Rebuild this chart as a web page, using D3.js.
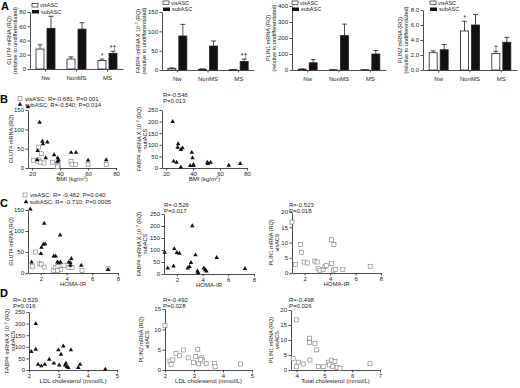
<!doctype html>
<html>
<head>
<meta charset="utf-8">
<script src="https://d3js.org/d3.v7.min.js"></script>
<style>
  body { margin: 0; background: #fff; }
  svg { font-family: "Liberation Sans", Arial, sans-serif; }
</style>
</head>
<body>
<script>
// ---------- A: bar data (mean, SEM) ----------
const groups = ["Nw", "NonMS", "MS"];
const glut4Vis = [28, 14, 12], glut4VisSem = [6, 3, 2];
const glut4Sub = [57, 56, 22], glut4SubSem = [17, 9, 3];
const fabp4Vis = [4, 2, 1], fabp4VisSem = [1.5, 0.8, 0.4];
const fabp4Sub = [88, 62, 22], fabp4SubSem = [30, 13, 6];
const plin1Vis = [5, 2, 2], plin1VisSem = [2, 1, 1];
const plin1Sub = [45, 215, 100], plin1SubSem = [20, 72, 22];
const plin2Vis = [2.3, 5.2, 2.2], plin2VisSem = [0.25, 1.3, 0.3];
const plin2Sub = [2.7, 6.0, 3.7], plin2SubSem = [0.7, 1.4, 0.65];

// ---------- B: BMI ----------
const bmiVisB = [21, 24.4, 26.5, 24.8, 24, 26, 28.5, 34.5, 38.2, 38.9, 38, 47.8, 48.5, 51, 60, 73];
const glut4VisB = [20, 54, 37, 21, 17, 15, 13, 15, 11, 6, 3, 17, 9, 9, 9, 9];
const bmiSubB = [17, 25.3, 23.9, 23.6, 27.3, 27.7, 30.9, 29.7, 35.7, 38.2, 38.9, 38.2, 47.8, 51.4, 60, 73];
const glut4SubB = [158, 118, 45, 21, 69, 62, 67, 26, 34, 26, 21, 17, 40, 40, 20, 21];
const bmiB2 = [24.9, 25.6, 27.8, 29, 28.6, 31, 32.2, 31, 37.9, 40.3, 39.1, 39.6, 40.3, 50.6, 51.1, 53, 66.5, 75];
const fabp4B2 = [200, 29, 24, 104, 89, 79, 86, 3, 10, 10, 67, 43, 14, 24, 19, 24, 11, 19];

// ---------- C: HOMA-IR ----------
const homaVisC1 = [1.57, 1.92, 2.05, 2.26, 1.36, 3.0, 3.15, 3.33, 3.53, 3.8, 4.17, 4.43, 5.2, 7.23, 3.28];
const glut4VisC1 = [50, 22, 21, 14, 16, 6, 13, 16, 8, 18, 13, 13, 6, 10, 6];
const homaSubC1 = [1.18, 1.28, 2.26, 2.0, 2.05, 2.2, 2.33, 3.0, 3.15, 3.5, 3.28, 3.4, 3.53, 4.17, 4.3, 4.37, 4.3, 5.14, 7.23];
const glut4SubC1 = [152, 26, 118, 46, 61, 68, 69, 40, 40, 90, 26, 24, 26, 26, 24, 34, 18, 18, 8];
const homaC2 = [1.05, 1.29, 1.74, 1.8, 2.0, 2.2, 2.85, 2.98, 3.1, 3.2, 3.45, 3.6, 3.65, 4.1, 4.2, 4.3, 5.1, 7.3];
const fabp4C2 = [90, 24, 33, 105, 89, 86, 24, 31, 47, 200, 79, 12, 6, 24, 17, 12, 68, 22];
const homaC3 = [1.0, 1.26, 1.68, 1.74, 1.95, 2.2, 2.8, 2.98, 3.06, 3.2, 3.45, 3.6, 3.7, 4.1, 4.3, 4.1, 4.25, 4.4, 5.0, 7.15];
const plin1C3 = [16.7, 2.8, 9.4, 6.8, 3.6, 3.3, 3.9, 3.6, 1.4, 0.9, 1.2, 2.2, 2.5, 10.9, 9.3, 3.1, 0.9, 1.1, 1.2, 2.2];

// ---------- D: cholesterol ----------
const ldlD1 = [2.08, 2.23, 2.23, 2.31, 2.42, 2.54, 2.69, 2.85, 3.0, 3.03, 3.09, 3.17, 3.23, 3.26, 3.34, 3.29, 3.43, 3.68, 3.74, 4.6];
const fabp4D1 = [79, 200, 89, 24, 17, 24, 46, 29, 86, 21, 67, 103, 21, 29, 10, 14, 86, 10, 24, 3];
const ldlD2 = [2.0, 2.17, 2.21, 2.27, 2.38, 2.5, 2.63, 2.8, 2.98, 3.06, 3.13, 3.15, 3.27, 3.3, 3.23, 3.42, 3.7, 3.73, 4.6];
const plin2D2 = [10.9, 2.2, 1.4, 2.5, 4.1, 3.5, 4.9, 3.0, 1.9, 3.3, 5.1, 1.5, 3.0, 2.2, 2.6, 1.6, 1.6, 0.8, 1.5];
const tcD3 = [3.88, 4.0, 4.06, 4.0, 4.24, 4.46, 4.46, 4.48, 4.78, 4.66, 4.72, 4.96, 5.14, 5.18, 5.26, 5.3, 5.38, 5.46, 5.56, 6.64];
const plin1D3 = [3.9, 1.1, 2.6, 16.7, 2.0, 10.6, 9.2, 3.3, 1.1, 8.9, 6.7, 1.1, 2.6, 1.7, 3.3, 1.1, 2.8, 0.8, 0.6, 2.1];

const ink = "#222";
const svg = d3.select("body").append("svg").attr("width", 520).attr("height", 388);
svg.append("rect").attr("width", 520).attr("height", 388).attr("fill", "#fff");

// text with optional superscripts: parts = ["a", {sup:"-3"}, "b"]
function rich(t, parts) {
  let raise = false;
  parts.forEach(p => {
    if (typeof p === "string") {
      t.append("tspan").attr("dy", raise ? 2 : null).text(p);
      raise = false;
    } else {
      t.append("tspan").attr("dy", -2).attr("font-size", 4).text(p.sup);
      raise = true;
    }
  });
  return t;
}

function styleAxis(g) {
  g.attr("font-size", null).attr("font-family", null);
  g.select(".domain").attr("stroke", ink).attr("stroke-width", 0.8);
  g.selectAll(".tick line").attr("stroke", ink).attr("stroke-width", 0.8);
  g.selectAll(".tick text").attr("fill", ink).attr("font-size", 6);
}

function yLabel(xs, yc, lines, size) {
  lines.forEach((parts, i) => {
    const t = svg.append("text")
      .attr("transform", `translate(${xs[i]},${yc}) rotate(-90)`)
      .attr("text-anchor", "middle").attr("font-size", size || 5.5).attr("fill", ink);
    rich(t, parts);
  });
}

function txt(x, y, s, size, opts) {
  const t = svg.append("text").attr("x", x).attr("y", y)
    .attr("font-size", size || 6).attr("fill", ink);
  if (opts && opts.anchor) t.attr("text-anchor", opts.anchor);
  if (opts && opts.bold) t.attr("font-weight", "bold");
  return t.text(s);
}

const tri = d3.symbol(d3.symbolTriangle, 9)();

function drawPoints(g, x, y, xs, ys, type) {
  const pts = d3.zip(xs, ys);
  if (type === "tri") {
    g.selectAll(null).data(pts).join("path")
      .attr("d", tri)
      .attr("transform", d => `translate(${x(d[0])},${y(d[1])})`)
      .attr("fill", "#111");
  } else {
    g.selectAll(null).data(pts).join("rect")
      .attr("x", d => x(d[0]) - 2).attr("y", d => y(d[1]) - 2)
      .attr("width", 4).attr("height", 4)
      .attr("fill", "#fff").attr("stroke", "#8a8a8a").attr("stroke-width", 0.7);
  }
}

// ---------- bar panel ----------
const bw = 8, gap = 3;
function barPanel(o) {
  const x = d3.scaleBand().domain(groups).range([o.x0, o.x1]);
  const y = d3.scaleLinear().domain([0, o.ymax]).range([o.yb, o.yt]);
  const g = svg.append("g");
  const series = [
    { v: o.vis, e: o.visSem, m: o.visMark || [], fill: "#fff", off: -bw - gap / 2 },
    { v: o.sub, e: o.subSem, m: o.subMark || [], fill: "#111", off: gap / 2 }
  ];
  series.forEach(s => {
    const cx = (k) => x(k) + x.bandwidth() / 2 + s.off;
    const top = (i) => y(s.v[i] + s.e[i]);
    g.selectAll(null).data(groups).join("line")
      .attr("x1", k => cx(k) + bw / 2).attr("x2", k => cx(k) + bw / 2)
      .attr("y1", (k, i) => y(s.v[i])).attr("y2", (k, i) => top(i))
      .attr("stroke", ink).attr("stroke-width", 0.8);
    g.selectAll(null).data(groups).join("line")
      .attr("x1", k => cx(k) + bw / 2 - 2.5).attr("x2", k => cx(k) + bw / 2 + 2.5)
      .attr("y1", (k, i) => top(i)).attr("y2", (k, i) => top(i))
      .attr("stroke", ink).attr("stroke-width", 0.8);
    g.selectAll(null).data(groups).join("rect")
      .attr("x", k => cx(k)).attr("width", bw)
      .attr("y", (k, i) => y(s.v[i])).attr("height", (k, i) => y(0) - y(s.v[i]))
      .attr("fill", s.fill).attr("stroke", ink).attr("stroke-width", 0.8);
    g.selectAll(null).data(groups).join("text")
      .attr("x", k => cx(k) + bw / 2).attr("y", (k, i) => top(i) - 1.2)
      .attr("text-anchor", "middle").attr("font-size", 7).attr("fill", ink)
      .text((k, i) => s.m[i] || "");
  });
  g.append("g").attr("transform", `translate(${o.x0},0)`)
    .call(d3.axisLeft(y).tickValues(o.yticks).tickFormat(o.fmt || d3.format("d"))
      .tickSize(2.5).tickSizeOuter(0).tickPadding(1.5))
    .call(styleAxis);
  g.append("g").attr("transform", `translate(0,${o.yb})`)
    .call(d3.axisBottom(x).tickSize(2.5).tickSizeOuter(0).tickPadding(4))
    .call(styleAxis);
  // legend
  const L = o.leg;
  g.append("rect").attr("x", L[0]).attr("y", L[1]).attr("width", 6).attr("height", 3.5)
    .attr("fill", "#fff").attr("stroke", ink).attr("stroke-width", 0.7);
  txt(L[0] + 8, L[1] + 3.8, "visASC", 5.5);
  g.append("rect").attr("x", L[0]).attr("y", L[1] + 6.5).attr("width", 7).attr("height", 3.5)
    .attr("fill", "#111");
  txt(L[0] + 9, L[1] + 10.3, "subASC", 5.5);
  yLabel(o.labX, (o.yb + o.yt) / 2, [o.label, ["(relative to undifferentiated)"]]);
}

// ---------- scatter panel ----------
function scatterPanel(o) {
  const x = d3.scaleLinear().domain(o.xdom).range([o.x0, o.x1]);
  const y = d3.scaleLinear().domain(o.ydom).range([o.yb, o.yt]);
  const g = svg.append("g");
  g.append("g").attr("transform", `translate(${o.x0},0)`)
    .call(d3.axisLeft(y).tickValues(o.yticks).tickFormat(d3.format("~g"))
      .tickSize(2.5).tickSizeOuter(0).tickPadding(1.5))
    .call(styleAxis);
  g.append("g").attr("transform", `translate(0,${o.yb})`)
    .call(d3.axisBottom(x).tickValues(o.xticks).tickFormat(d3.format("~g"))
      .tickSize(2.5).tickSizeOuter(0).tickPadding(1.5))
    .call(styleAxis);
  o.sets.forEach(s => drawPoints(g, x, y, s.xs, s.ys, s.type));
  rich(svg.append("text").attr("x", (o.x0 + o.x1) / 2).attr("y", o.yb + 13)
    .attr("text-anchor", "middle").attr("font-size", 6).attr("fill", ink), o.xlabel);
  yLabel(o.labX, (o.yb + o.yt) / 2, o.ylabel);
  if (o.stat) {
    txt(o.stat[0], o.stat[1], o.stat[2], 6);
    txt(o.stat[0], o.stat[1] + 6, o.stat[3], 6);
  }
}

// ===== Row A =====
txt(1, 10, "A", 11, { bold: true }).attr("fill", "#000");
barPanel({ x0: 30, x1: 123, yb: 69, yt: 12, ymax: 80, yticks: [0, 20, 40, 60, 80],
  vis: glut4Vis, visSem: glut4VisSem, sub: glut4Sub, subSem: glut4SubSem,
  visMark: ["", "", "*"], subMark: ["", "", "*†"],
  leg: [32, 3.5], labX: [11, 16.5], label: ["GLUT4 mRNA (RQ)"] });
barPanel({ x0: 162, x1: 254, yb: 70, yt: 12, ymax: 150, yticks: [0, 50, 100, 150],
  vis: fabp4Vis, visSem: fabp4VisSem, sub: fabp4Sub, subSem: fabp4SubSem,
  subMark: ["", "", "*†"],
  leg: [163, 1], labX: [140, 145.5], label: ["FABP4 mRNA X 10", { sup: "-3" }, " (RQ)"] });
barPanel({ x0: 292, x1: 386, yb: 70, yt: 6, ymax: 400, yticks: [0, 100, 200, 300, 400],
  vis: plin1Vis, visSem: plin1VisSem, sub: plin1Sub, subSem: plin1SubSem,
  leg: [292, 1], labX: [270, 275.5], label: ["PLIN1 mRNA (RQ)"] });
barPanel({ x0: 423, x1: 517, yb: 70, yt: 10, ymax: 8, yticks: [0, 2, 4, 6, 8], fmt: d3.format(".1f"),
  vis: plin2Vis, visSem: plin2VisSem, sub: plin2Sub, subSem: plin2SubSem,
  visMark: ["", "*", "†"],
  leg: [430, 1], labX: [402, 407.5], label: ["PLIN2 mRNA (RQ)"] });

// ===== Row B =====
txt(0, 103, "B", 11, { bold: true }).attr("fill", "#000");
scatterPanel({ x0: 28, x1: 116, yb: 168, yt: 110, xdom: [17, 80], ydom: [0, 150],
  xticks: [20, 40, 60, 80], yticks: [0, 50, 100, 150],
  sets: [{ xs: bmiVisB, ys: glut4VisB, type: "sq" }, { xs: bmiSubB, ys: glut4SubB, type: "tri" }],
  xlabel: ["BMI (kg/m", { sup: "2" }, ")"], labX: [12.5], ylabel: [["GLUT4 mRNA (RQ)"]] });
svg.append("rect").attr("x", 18).attr("y", 96.5).attr("width", 4).attr("height", 4)
  .attr("fill", "#fff").attr("stroke", "#8a8a8a").attr("stroke-width", 0.7);
txt(25, 100.5, "visASC: R=-0.681; P=0.001", 6);
svg.append("path").attr("d", tri).attr("transform", "translate(20,104.5)").attr("fill", "#111");
txt(25, 107, "subASC: R=-0.540; P=0.014", 6);

scatterPanel({ x0: 162, x1: 247, yb: 168, yt: 110, xdom: [17, 80], ydom: [0, 250],
  xticks: [20, 40, 60, 80], yticks: [0, 50, 100, 150, 200, 250],
  sets: [{ xs: bmiB2, ys: fabp4B2, type: "tri" }],
  xlabel: ["BMI (kg/m", { sup: "2" }, ")"], labX: [141, 147],
  ylabel: [["FABP4 mRNA X 10", { sup: "-3" }, " (RQ)"], ["subACS"]],
  stat: [163, 97, "R=-0.546", "P=0.013"] });

// ===== Row C =====
txt(0, 207, "C", 11, { bold: true }).attr("fill", "#000");
scatterPanel({ x0: 28, x1: 118, yb: 273, yt: 210, xdom: [1, 8], ydom: [0, 150],
  xticks: [2, 4, 6, 8], yticks: [0, 50, 100, 150],
  sets: [{ xs: homaVisC1, ys: glut4VisC1, type: "sq" }, { xs: homaSubC1, ys: glut4SubC1, type: "tri" }],
  xlabel: ["HOMA-IR"], labX: [12.5], ylabel: [["GLUT4 mRNA (RQ)"]] });
svg.append("rect").attr("x", 23).attr("y", 193).attr("width", 4).attr("height", 4)
  .attr("fill", "#fff").attr("stroke", "#8a8a8a").attr("stroke-width", 0.7);
txt(30, 197, "visASC: R= -0.462; P=0.040", 6);
svg.append("path").attr("d", tri).attr("transform", "translate(26,202)").attr("fill", "#111");
txt(30, 204, "subASC: R= -0.710; P=0.0005", 6);

scatterPanel({ x0: 164, x1: 254, yb: 274, yt: 214, xdom: [1, 8], ydom: [0, 250],
  xticks: [2, 4, 6, 8], yticks: [0, 50, 100, 150, 200, 250],
  sets: [{ xs: homaC2, ys: fabp4C2, type: "tri" }],
  xlabel: ["HOMA-IR"], labX: [141, 147],
  ylabel: [["FABP4 mRNA X 10", { sup: "-3" }, " (RQ)"], ["subACS"]],
  stat: [164, 206.5, "R=-0.526", "P=0.017"] });
scatterPanel({ x0: 292, x1: 381, yb: 273, yt: 212, xdom: [1, 8], ydom: [0, 20],
  xticks: [2, 4, 6, 8], yticks: [0, 5, 10, 15, 20],
  sets: [{ xs: homaC3, ys: plin1C3, type: "sq" }],
  xlabel: ["HOMA-IR"], labX: [273, 279],
  ylabel: [["PLIN1 mRNA (RQ)"], ["visACS"]],
  stat: [289, 206.5, "R=-0.523", "P=0.018"] });

// ===== Row D =====
txt(0, 297, "D", 11, { bold: true }).attr("fill", "#000");
scatterPanel({ x0: 29, x1: 117, yb: 370, yt: 312, xdom: [2, 5], ydom: [0, 250],
  xticks: [2, 3, 4, 5], yticks: [0, 50, 100, 150, 200, 250],
  sets: [{ xs: ldlD1, ys: fabp4D1, type: "tri" }],
  xlabel: ["LDL cholesterol (mmol/L)"], labX: [8.5, 14.5],
  ylabel: [["FABP4 mRNA X 10", { sup: "-3" }, " (RQ)"], ["subACS"]],
  stat: [13, 302, "R=-0.529", "P=0.016"] });
scatterPanel({ x0: 165, x1: 252, yb: 370, yt: 309, xdom: [2, 5], ydom: [0, 15],
  xticks: [2, 3, 4, 5], yticks: [0, 5, 10, 15],
  sets: [{ xs: ldlD2, ys: plin2D2, type: "sq" }],
  xlabel: ["LDL cholesterol (mmol/L)"], labX: [143, 149],
  ylabel: [["PLIN2 mRNA (RQ)"], ["visACS"]],
  stat: [163, 302, "R=-0.492", "P=0.028"] });
scatterPanel({ x0: 291, x1: 380, yb: 370, yt: 310, xdom: [3.8, 7], ydom: [0, 20],
  xticks: [4, 5, 6, 7], yticks: [0, 5, 10, 15, 20],
  sets: [{ xs: tcD3, ys: plin1D3, type: "sq" }],
  xlabel: ["Total cholesterol (mmol/L)"], labX: [273, 279],
  ylabel: [["PLIN1 mRNA (RQ)"], ["visACS"]],
  stat: [289, 302, "R=-0.498", "P=0.026"] });
</script>
</body>
</html>
